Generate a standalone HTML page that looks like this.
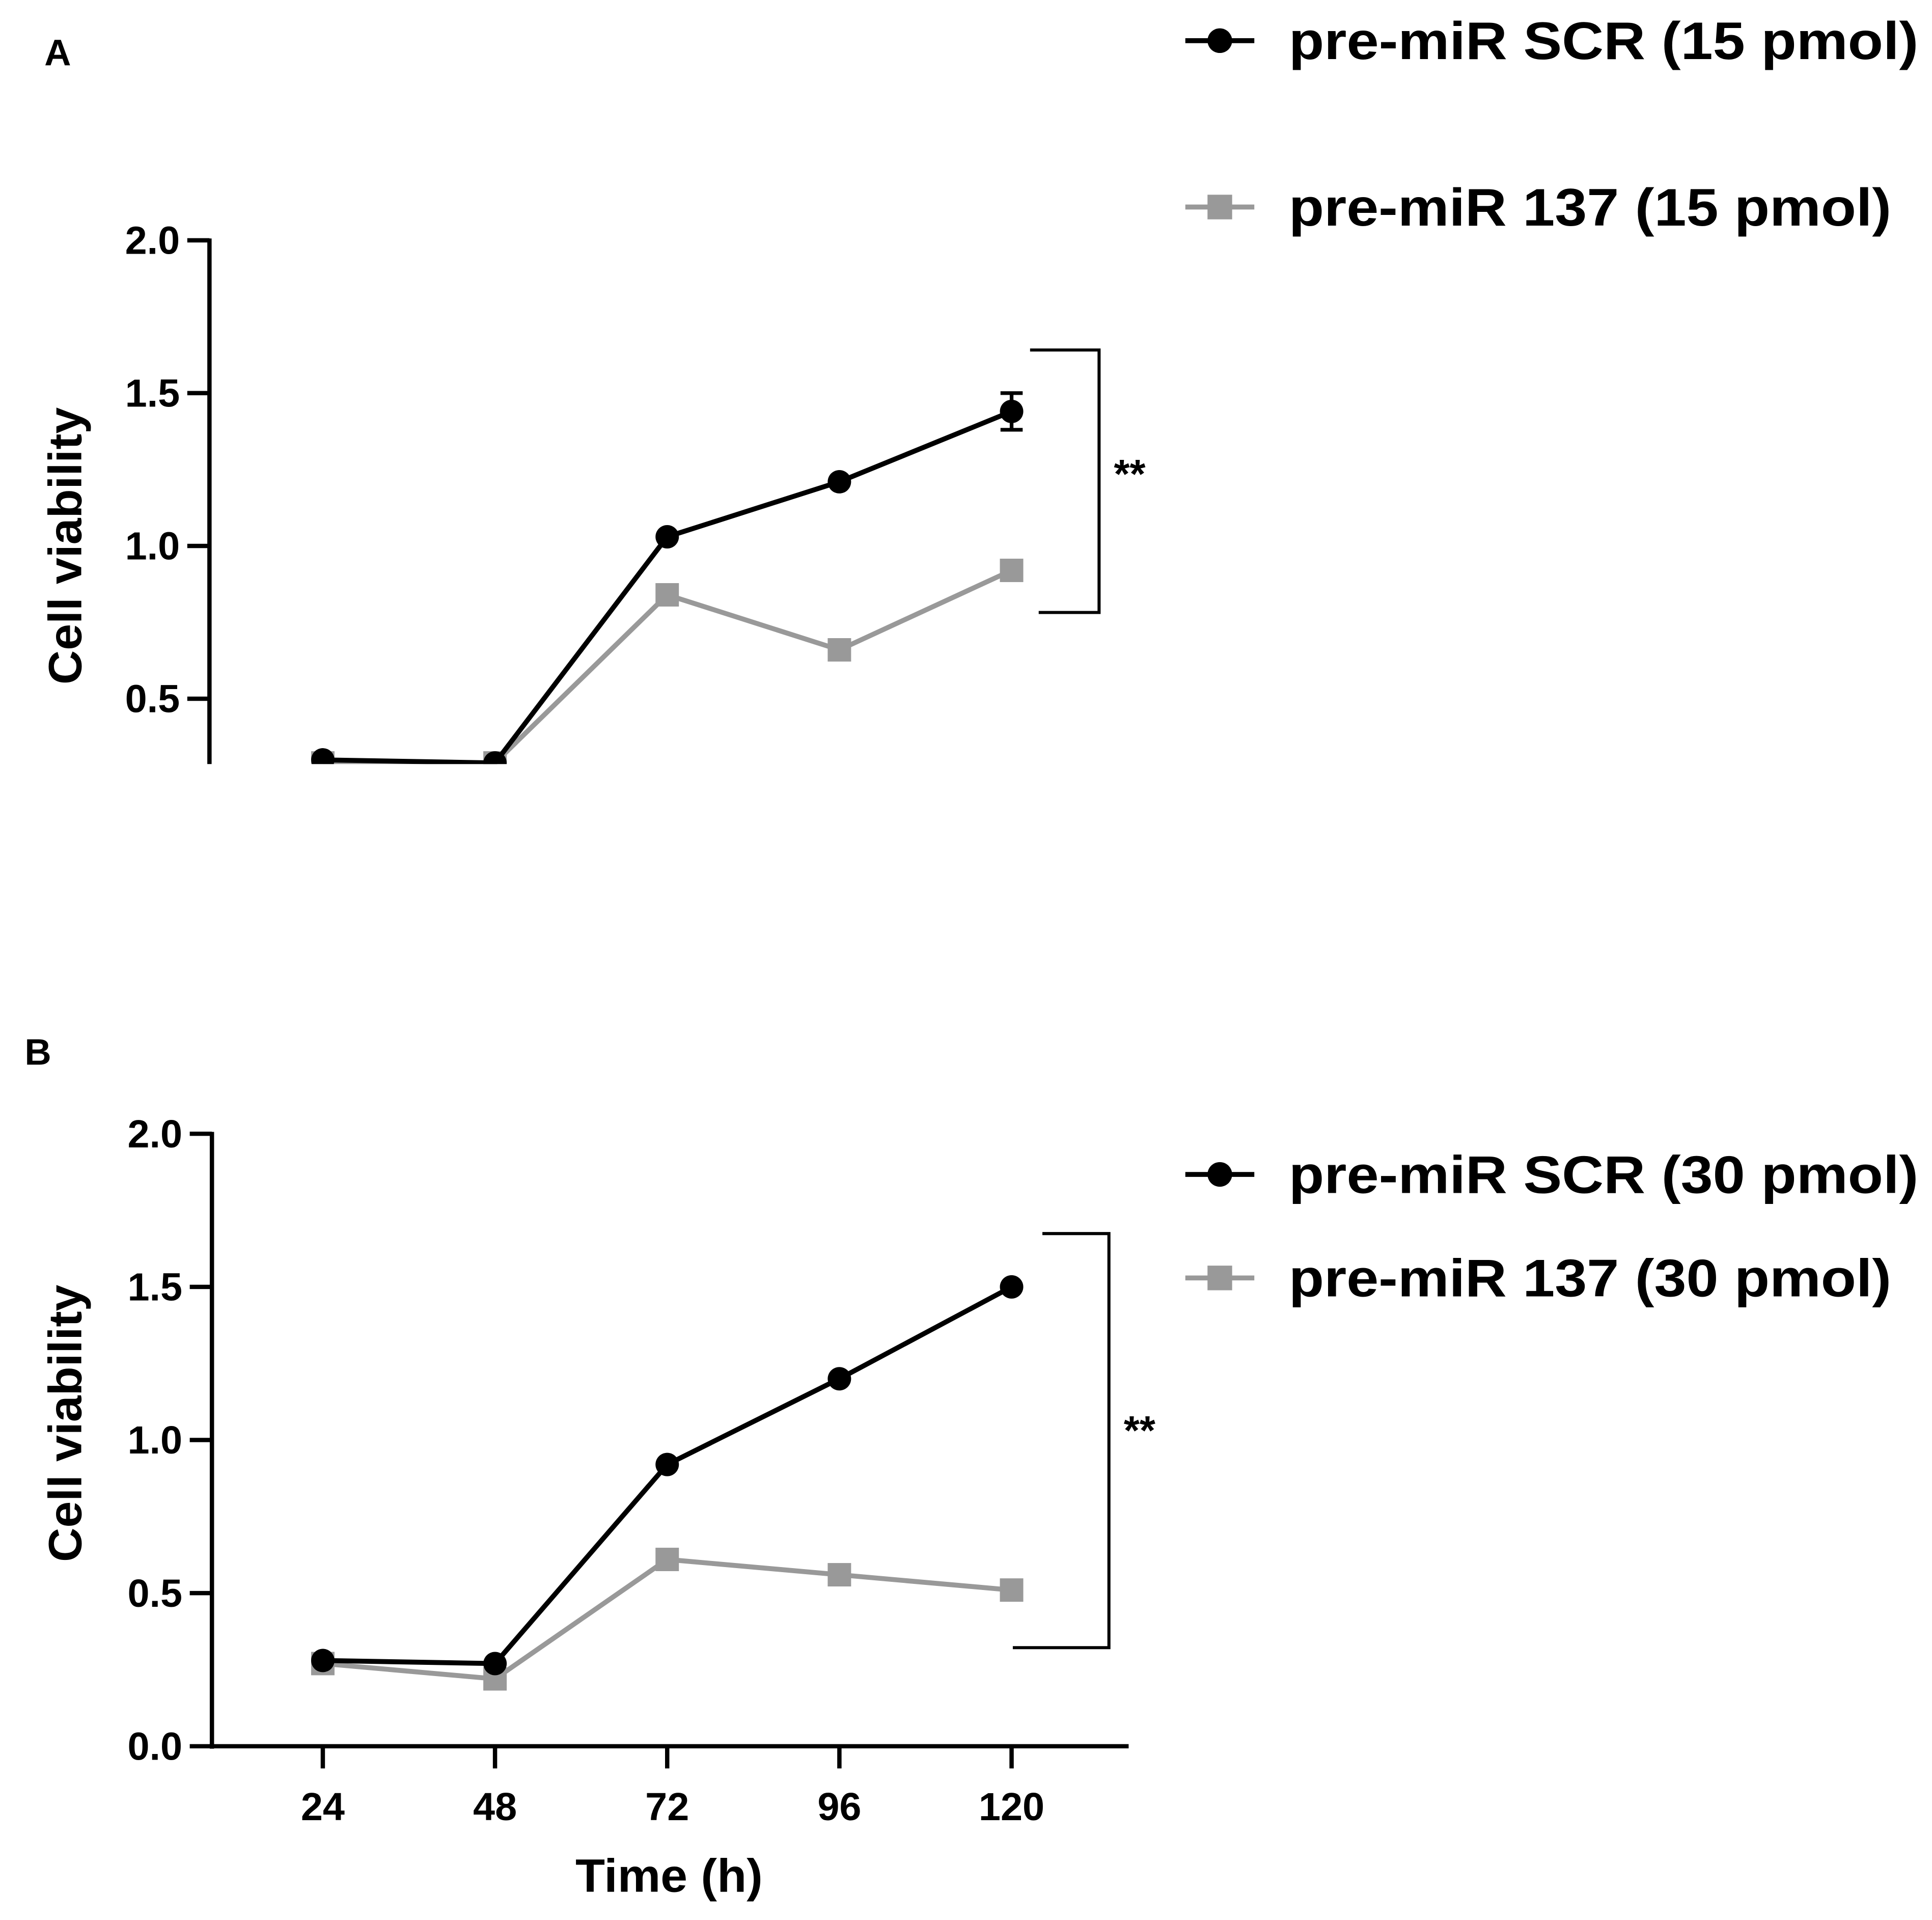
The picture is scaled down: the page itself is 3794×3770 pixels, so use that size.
<!DOCTYPE html>
<html><head><meta charset="utf-8"><style>html,body{margin:0;padding:0;background:#fff}svg{display:block}text{font-family:"Liberation Sans",Arial,sans-serif;font-weight:bold;fill:#000}</style></head>
<body>
<svg id="fig" width="3794" height="3770" viewBox="0 0 1568 1558" preserveAspectRatio="none" xmlns="http://www.w3.org/2000/svg">
<defs><clipPath id="clipA"><rect x="150" y="150" width="800" height="470"/></clipPath></defs>
<g id="root"></g>
</svg>
<script>
const hours = [24, 48, 72, 96, 120];
const yTicks = [0.0, 0.5, 1.0, 1.5, 2.0];
const xTickLabels = ["24", "48", "72", "96", "120"];
const scrA = [0.30, 0.29, 1.03, 1.21, 1.44];
const scrAErr = [0.0, 0.0, 0.0, 0.0, 0.06];
const mirA = [0.29, 0.29, 0.84, 0.66, 0.92];
const scrB = [0.28, 0.27, 0.92, 1.20, 1.50];
const mirB = [0.27, 0.22, 0.61, 0.56, 0.51];

const NS = "http://www.w3.org/2000/svg";
const root = document.getElementById("root");
function mk(tag, attrs, parent, text) {
  const e = document.createElementNS(NS, tag);
  for (const k in attrs) e.setAttribute(k, attrs[k]);
  if (text !== undefined) e.textContent = text;
  (parent || root).appendChild(e);
  return e;
}
const xScale = h => 262 + (h - 24) * (821 - 262) / 96;

function panel(cfg) {
  const y = v => cfg.y0 - v * cfg.ppu;
  const g = mk("g", {});
  
  
  const ax = mk("line", {x1: cfg.ax, y1: y(2.0) - 1.5, x2: cfg.ax, y2: cfg.axBottom, stroke: "#000", "stroke-width": 3.5}, g);
  
  
  yTicks.forEach(t => {
    if (y(t) > cfg.axBottom + 1) return;
    const tk = mk("line", {x1: cfg.ax - 18, y1: y(t), x2: cfg.ax, y2: y(t), stroke: "#000", "stroke-width": 3.5}, g);
    
    
    const tl = mk("text", {x: cfg.ax - 24, y: y(t) + 11, "text-anchor": "end", "font-size": 32}, g, t.toFixed(1));
    
    
  });
  const yt = mk("text", {x: 0, y: 0, "text-anchor": "middle", "font-size": 38, textLength: 225, lengthAdjust: "spacingAndGlyphs", transform: `translate(66,${cfg.titleY}) rotate(-90)`}, g, "Cell viability");
  
  
  const pl = mk("g", cfg.clip ? {"clip-path": "url(#clipA)"} : {}, g);
  function series(vals, color, marker, nm) {
    const pts = vals.map((v, i) => xScale(hours[i]) + "," + y(v)).join(" ");
    const ln = mk("polyline", {points: pts, fill: "none", stroke: color, "stroke-width": 4}, pl);
    
    
    vals.forEach((v, i) => {
      let m;
      if (marker === "c") m = mk("circle", {cx: xScale(hours[i]), cy: y(v), r: 9.5, fill: color}, pl);
      else m = mk("rect", {x: xScale(hours[i]) - 9.5, y: y(v) - 9.5, width: 19, height: 19, fill: color}, pl);
      
      
    });
  }
  if (cfg.err) cfg.err.forEach((e, i) => {
    if (!e) return;
    const x = xScale(hours[i]), v = cfg.scr[i];
    const eb = mk("path", {d: `M${x},${y(v + e)}V${y(v - e)}M${x - 9},${y(v + e)}H${x + 9}M${x - 9},${y(v - e)}H${x + 9}`, stroke: "#000", "stroke-width": 3, fill: "none"}, pl);
    
    
  });
  series(cfg.mir, "#999", "s", "pre-mir-137");
  series(cfg.scr, "#000", "c", "pre-mir-scr");
  const b = cfg.br;
  const br = mk("path", {d: `M${b.xt},${b.y1}H${b.x}V${b.y2}H${b.xb}`, stroke: "#000", "stroke-width": 2.5, fill: "none"}, g);
  
  
  const st = mk("text", {x: b.x + 12, y: b.sy, "font-size": 33, "font-weight": "normal"}, g, "**");
  
  
  const pl2 = mk("text", {x: cfg.lx, y: cfg.ly, "font-size": 30}, g, cfg.letter);
  
  
  cfg.legend.forEach((L, i) => {
    const lg = mk("g", {}, g);
    
    
    mk("line", {x1: 962, y1: L.y, x2: 1018, y2: L.y, stroke: L.c, "stroke-width": 4}, lg);
    if (i === 0) mk("circle", {cx: 990, cy: L.y, r: 10, fill: L.c}, lg);
    else mk("rect", {x: 980, y: L.y - 10, width: 20, height: 20, fill: L.c}, lg);
    mk("text", {x: 1046, y: L.y + 15, "font-size": 43, textLength: L.w, lengthAdjust: "spacingAndGlyphs"}, lg, L.t);
  });
}

panel({name: "panel-a", y0: 691, ppu: 248, ax: 170, axBottom: 620, titleY: 443, clip: true,
  scr: scrA, mir: mirA, err: scrAErr, letter: "A", lx: 36, ly: 53,
  br: {x: 892, y1: 284, y2: 497, xt: 836, xb: 843, sy: 396},
  legend: [{y: 33, c: "#000", t: "pre-miR SCR (15 pmol)", w: 511}, {y: 168, c: "#999", t: "pre-miR 137 (15 pmol)", w: 489}]});
panel({name: "panel-b", y0: 1417, ppu: 248.5, ax: 172, axBottom: 1419, titleY: 1155, clip: false,
  scr: scrB, mir: mirB, err: null, letter: "B", lx: 20, ly: 864,
  br: {x: 900, y1: 1001, y2: 1337, xt: 846, xb: 822, sy: 1172},
  legend: [{y: 953, c: "#000", t: "pre-miR SCR (30 pmol)", w: 511}, {y: 1037, c: "#999", t: "pre-miR 137 (30 pmol)", w: 489}]});

const xa = mk("line", {x1: 170, y1: 1417, x2: 916, y2: 1417, stroke: "#000", "stroke-width": 3.5});


hours.forEach((h, i) => {
  const t = mk("line", {x1: xScale(h), y1: 1417, x2: xScale(h), y2: 1435, stroke: "#000", "stroke-width": 3.5});
  
  
  const l = mk("text", {x: xScale(h), y: 1477, "text-anchor": "middle", "font-size": 32}, root, xTickLabels[i]);
  
  
});
const xt = mk("text", {x: 543, y: 1535, "text-anchor": "middle", "font-size": 38, textLength: 152, lengthAdjust: "spacingAndGlyphs"}, root, "Time (h)");


</script>
</body></html>
